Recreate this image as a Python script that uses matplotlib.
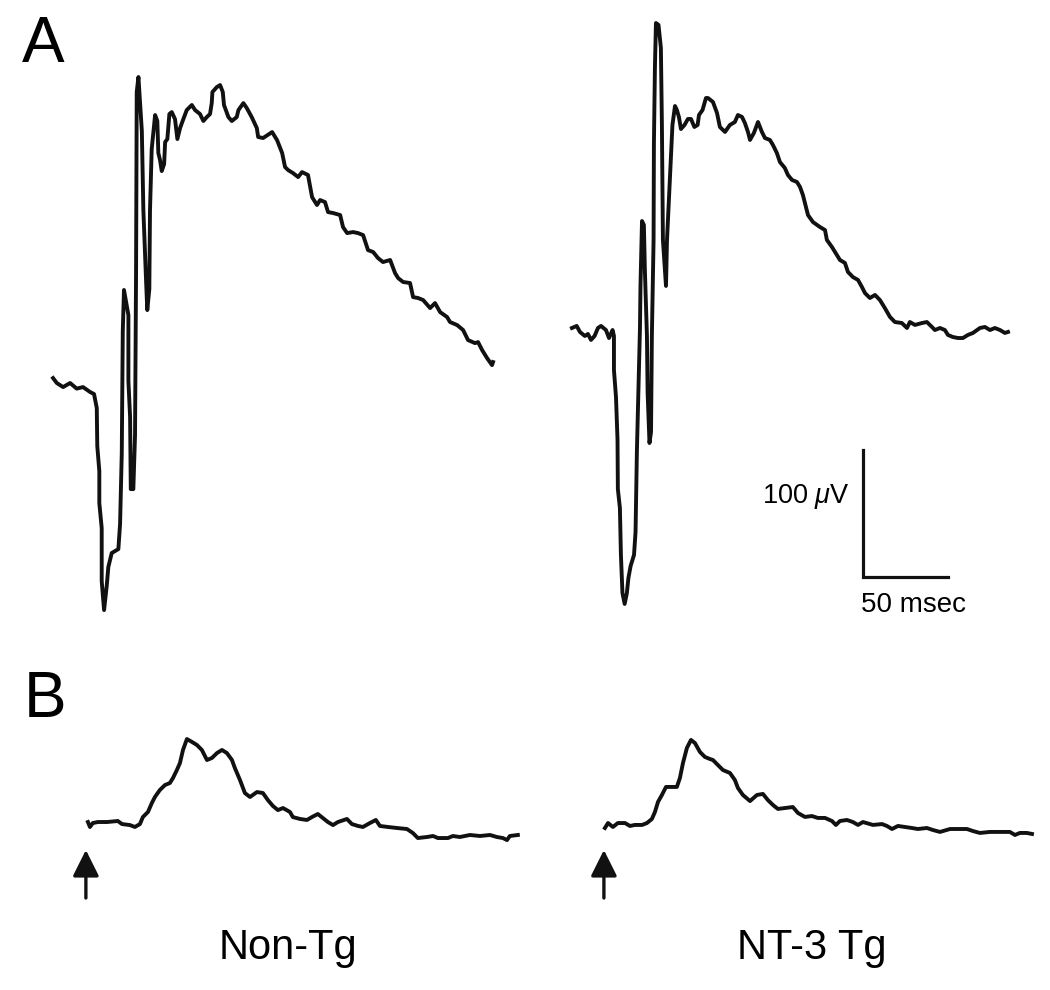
import numpy as np
import matplotlib
matplotlib.use("Agg")
import matplotlib.pyplot as plt

plt.rcParams['font.family'] = ['Liberation Sans', 'DejaVu Sans']
plt.rcParams['mathtext.fontset'] = 'custom'
plt.rcParams['mathtext.it'] = 'Liberation Sans:italic'

# ---- panel A, Non-Tg (time ms, amplitude uV, relative to trace start)
a_nontg_t = [0, 2.2, 5.9, 10.0, 13.9, 17.6, 21.8, 24.1, 25.7, 26.0, 27.2, 27.2, 28.6, 28.6, 30.0,
             31.6, 32.5, 34.5, 38.4, 39.4, 40.4, 41.0, 41.7, 44.3, 44.3, 45.3, 45.7, 47.2, 48.2,
             48.8, 49.2, 50.2, 52.2, 53.1, 54.7, 55.4, 56.6, 57.0, 58.0, 60.0, 61.3, 61.9, 62.9,
             63.9, 65.3, 65.9, 67.2, 68.4, 69.8, 71.7, 73.1, 74.7, 76.6, 78.6, 81.6, 83.5, 86.4,
             88.4, 90.4, 92.3, 93.3, 93.7, 96.3, 98.2, 99.8, 100.5, 103.1, 105.1, 108.0, 109.0,
             111.9, 113.9, 116.8, 119.8, 120.6, 123.5, 128.8, 131.7, 134.7, 136.4, 138.2, 141.1,
             144.1, 146.4, 149.9, 152.3, 155.2, 157.0, 159.9, 161.7, 164.6, 168.8, 170.5, 172.9,
             176.4, 179.3, 182.3, 185.2, 188.2, 191.1, 194.0, 198.2, 201.1, 202.9, 205.8, 209.9,
             211.7, 214.6, 217.6, 221.7, 224.6, 227.6, 231.7, 233.4, 237.6, 241.1, 244.0, 248.1,
             249.9, 252.3, 255.2, 258.1, 258.7]
a_nontg_v = [0, -3.9, -7.1, -3.9, -8.3, -7.1, -11.0, -12.6, -23.6, -53.5, -73.2, -98.4, -118.1,
             -159.8, -182.6, -162.9, -148.7, -137.7, -134.6, -114.9, -59.0, 37.0, 69.3, 49.6, -2.4,
             -30.7, -87.4, -87.4, -44.9, 81.8, 225.1, 236.9, 194.4, 132.2, 76.3, 53.5, 70.0, 132.2,
             180.2, 207.0, 202.3, 177.1, 171.6, 162.9, 168.4, 185.7, 188.1, 207.8, 209.3, 203.8,
             188.1, 196.8, 203.8, 210.9, 214.9, 210.9, 207.8, 202.3, 205.4, 207.8, 216.4, 225.1,
             229.0, 230.6, 225.1, 214.9, 205.4, 202.3, 205.4, 210.9, 216.4, 212.5, 205.4, 196.8,
             189.7, 188.9, 193.6, 187.3, 177.1, 166.1, 163.7, 161.3, 158.2, 162.1, 159.8, 142.4,
             136.2, 140.1, 138.5, 130.6, 129.9, 128.3, 118.8, 114.1, 114.9, 114.1, 112.5, 100.7,
             99.2, 94.4, 91.3, 92.9, 82.6, 78.7, 75.6, 74.8, 63.7, 63.0, 61.4, 55.1, 59.0, 51.9,
             48.0, 44.1, 41.7, 37.8, 29.9, 27.5, 28.3, 22.0, 15.7, 10.2, 12.6]

# ---- panel A, NT-3 Tg
a_tg_t = [0, 2.8, 4.7, 7.6, 9.4, 11.2, 13.3, 15.3, 17.1, 20.0, 21.8, 23.9, 24.7, 24.7, 25.9, 26.8,
          27.0, 28.2, 28.8, 29.7, 31.0, 32.3, 33.2, 34.5, 36.5, 37.4, 38.2, 40.0, 40.3, 41.2, 42.3,
          42.9, 44.1, 44.5, 45.6, 46.5, 47.0, 48.0, 48.2, 48.8, 49.4, 50.9, 52.3, 52.9, 53.5, 55.3,
          55.9, 57.6, 59.1, 60.6, 61.7, 62.9, 64.1, 66.2, 68.2, 70.0, 72.0, 73.9, 74.7, 76.8, 78.8,
          80.0, 82.9, 85.3, 87.0, 90.0, 92.9, 95.8, 97.6, 100.0, 101.7, 103.5, 104.7, 107.0, 109.4,
          111.7, 113.5, 116.4, 118.2, 120.5, 122.3, 125.2, 127.0, 129.4, 132.3, 134.1, 135.8, 137.6,
          138.8, 141.7, 145.8, 148.8, 149.9, 152.9, 155.8, 157.6, 160.5, 162.3, 165.2, 168.2, 170.5,
          172.3, 175.2, 178.2, 181.1, 184.0, 187.0, 189.9, 194.0, 197.0, 198.7, 201.7, 205.8, 208.7,
          211.7, 213.4, 216.4, 219.3, 221.1, 224.0, 227.0, 229.9, 232.8, 235.8, 239.9, 242.8, 245.8,
          248.7, 251.7, 254.6, 256.4]
a_tg_v = [0, 1.6, -3.1, -6.3, -4.7, -9.4, -6.3, 0, 1.6, -1.6, -7.9, -1.6, -6.3, -33.1, -54.3,
          -88.1, -126.7, -141.7, -178.6, -208.6, -217.2, -208.6, -196.8, -187.3, -178.6, -160.5,
          -96.8, 0, 33.1, 84.2, 81.1, 44.9, -6.3, -51.2, -90.5, -81.8, -6.3, 69.3, 144.8, 205.4,
          240.0, 238.5, 220.4, 159.8, 69.3, 33.1, 69.3, 118.1, 159.8, 174.7, 171.6, 166.1, 156.6,
          159.8, 164.5, 164.5, 158.2, 159.8, 167.6, 171.6, 181.0, 181.0, 177.9, 169.2, 158.2, 154.3,
          159.8, 162.1, 167.6, 166.1, 161.3, 154.3, 148.0, 153.5, 162.1, 154.3, 149.5, 148.0, 144.0,
          137.7, 130.6, 125.9, 120.4, 116.5, 114.9, 111.0, 104.7, 95.2, 88.9, 83.4, 79.5, 77.1, 69.3,
          63.7, 57.5, 53.5, 51.2, 44.1, 40.1, 37.8, 32.3, 27.5, 23.6, 26.0, 22.0, 15.7, 8.7, 4.7,
          3.9, 0, 4.7, 2.4, 3.9, 4.7, 0.8, -1.6, 0, -1.6, -5.5, -7.1, -7.9, -7.9, -5.5, -3.9, 0,
          0.8, -1.6, 0, -1.6, -3.9, -3.1]

# ---- panel B, Non-Tg
b_nontg_t = [0, 1.2, 2.9, 5.9, 11.2, 17.6, 20.0, 24.7, 27.6, 30.6, 32.3, 35.3, 37.6, 39.4, 42.3,
             45.3, 48.2, 50.0, 52.3, 54.1, 55.9, 58.2, 61.2, 64.1, 67.0, 70.0, 72.9, 75.9, 78.8,
             81.7, 84.7, 86.4, 89.4, 92.3, 95.3, 99.4, 102.9, 105.8, 108.8, 111.7, 114.7, 118.8,
             120.5, 124.7, 128.8, 131.7, 135.2, 138.2, 141.1, 144.1, 147.0, 152.3, 155.2, 158.8,
             161.7, 165.8, 169.3, 171.7, 176.4, 181.7, 187.6, 191.1, 194.0, 199.3, 202.9, 205.8,
             211.7, 214.6, 218.7, 224.6, 230.5, 236.4, 240.5, 244.0, 246.4, 248.1, 252.8]
b_nontg_v = [0, -3.9, -0.8, 0, 0, 0.8, -1.6, -2.4, -3.9, -1.6, 3.9, 7.9, 15.0, 19.7, 25.2, 29.1,
             30.7, 34.6, 40.9, 46.4, 56.7, 65.3, 63.0, 60.6, 56.7, 48.8, 50.4, 54.3, 56.7, 54.3,
             48.8, 42.5, 33.1, 22.8, 19.7, 23.6, 22.8, 17.3, 12.6, 9.4, 11.0, 7.9, 3.9, 2.4, 1.6,
             3.9, 6.3, 3.1, 0, -2.4, 0, 2.4, -1.6, -3.1, -3.9, -0.8, 1.6, -3.1, -3.9, -4.7, -5.5,
             -8.7, -12.6, -11.8, -11.0, -12.6, -12.6, -11.0, -11.8, -10.2, -11.0, -10.2, -11.8,
             -12.6, -14.2, -11.0, -10.2]

# ---- panel B, NT-3 Tg
b_tg_t = [0, 1.8, 4.7, 7.6, 11.8, 14.7, 17.6, 21.8, 24.7, 27.6, 29.4, 31.2, 33.5, 35.9, 42.3, 44.1,
          45.9, 48.2, 50.6, 52.9, 55.9, 58.8, 61.7, 63.5, 66.4, 69.4, 73.5, 76.4, 78.2, 81.1, 85.3,
          89.4, 92.9, 95.8, 98.8, 101.7, 105.8, 110.5, 113.5, 117.6, 121.7, 125.2, 129.4, 133.5,
          135.8, 138.2, 142.3, 145.8, 148.8, 151.7, 157.6, 162.9, 165.8, 168.8, 172.3, 176.4,
          180.5, 184.0, 189.3, 192.9, 197.0, 202.9, 208.7, 212.9, 216.4, 220.5, 226.4, 232.3,
          238.1, 241.1, 244.0, 248.1, 251.1]
b_tg_v = [0, 3.9, 0.8, 3.9, 3.9, 1.6, 2.4, 2.4, 3.9, 7.1, 12.6, 20.5, 26.0, 32.3, 32.3, 39.4,
          51.2, 63.0, 69.3, 66.9, 59.8, 55.9, 54.3, 53.5, 49.6, 45.6, 43.3, 37.8, 31.5, 26.0, 21.2,
          26.0, 26.8, 22.0, 18.1, 15.0, 15.7, 16.5, 11.8, 8.7, 9.4, 7.9, 7.9, 5.5, 2.4, 5.5, 6.3,
          4.7, 2.4, 4.7, 2.4, 3.1, 1.6, -0.8, 1.6, 0.8, 0, -0.8, 0, -1.6, -3.1, -0.8, -0.8, -0.8,
          -2.4, -3.9, -3.1, -3.1, -3.1, -5.5, -3.9, -3.9, -4.7]

labels = ["Non-Tg", "NT-3 Tg"]
scale_ms = 50
scale_uv = 100

fig = plt.figure(figsize=(10.5, 9.9), dpi=100)
ax = fig.add_axes([0, 0, 1, 1])
# 1 px = 0.588 ms horizontally, 0.787 uV vertically
ax.set_xlim(0, 1050 * 0.588)
ax.set_ylim(0, 990 * 0.787)
ax.axis('off')

lc = '#111111'
lw = 2.8
ax.plot(31.2 + np.array(a_nontg_t), 481.6 + np.array(a_nontg_v), color=lc, lw=lw, solid_joinstyle='round')
ax.plot(336.3 + np.array(a_tg_t), 521.0 + np.array(a_tg_v), color=lc, lw=lw, solid_joinstyle='round')
ax.plot(51.7 + np.array(b_nontg_t), 132.2 + np.array(b_nontg_v), color=lc, lw=lw, solid_joinstyle='round')
ax.plot(355.7 + np.array(b_tg_t), 127.5 + np.array(b_tg_v), color=lc, lw=lw, solid_joinstyle='round')

# scale bar
sx, sy = 507.4, 325.0
ax.plot([sx, sx, sx + scale_ms], [sy + scale_uv, sy, sy], color=lc, lw=2.3, solid_joinstyle='miter')
ax.text(sx - 8, sy + scale_uv * 0.63, "%d $\\mu$V" % scale_uv, ha='right', va='center', fontsize=19.5)
ax.text(sx - 1, sy - 12, "%d msec" % scale_ms, ha='left', va='top', fontsize=20)

# stimulus arrows
for x0 in [51.7 - 1.2, 355.7 - 0.6]:
    ax.annotate('', xy=(x0, 110.2), xytext=(x0, 72.4),
                arrowprops=dict(arrowstyle='-|>,head_length=0.4,head_width=0.2', mutation_scale=40,
                                color=lc, lw=2.4, shrinkA=0, shrinkB=0))

# panel letters
ax.text(43 * 0.588, (990 - 45) * 0.787, "A", fontsize=46, ha='center', va='center')
ax.text(45 * 0.588, (990 - 700) * 0.787, "B", fontsize=46, ha='center', va='center')

ax.text(288 * 0.588, (990 - 948) * 0.787, labels[0], fontsize=30, ha='center', va='center')
ax.text(812 * 0.588, (990 - 948) * 0.787, labels[1], fontsize=30, ha='center', va='center')

plt.savefig('out.png', dpi=100)
